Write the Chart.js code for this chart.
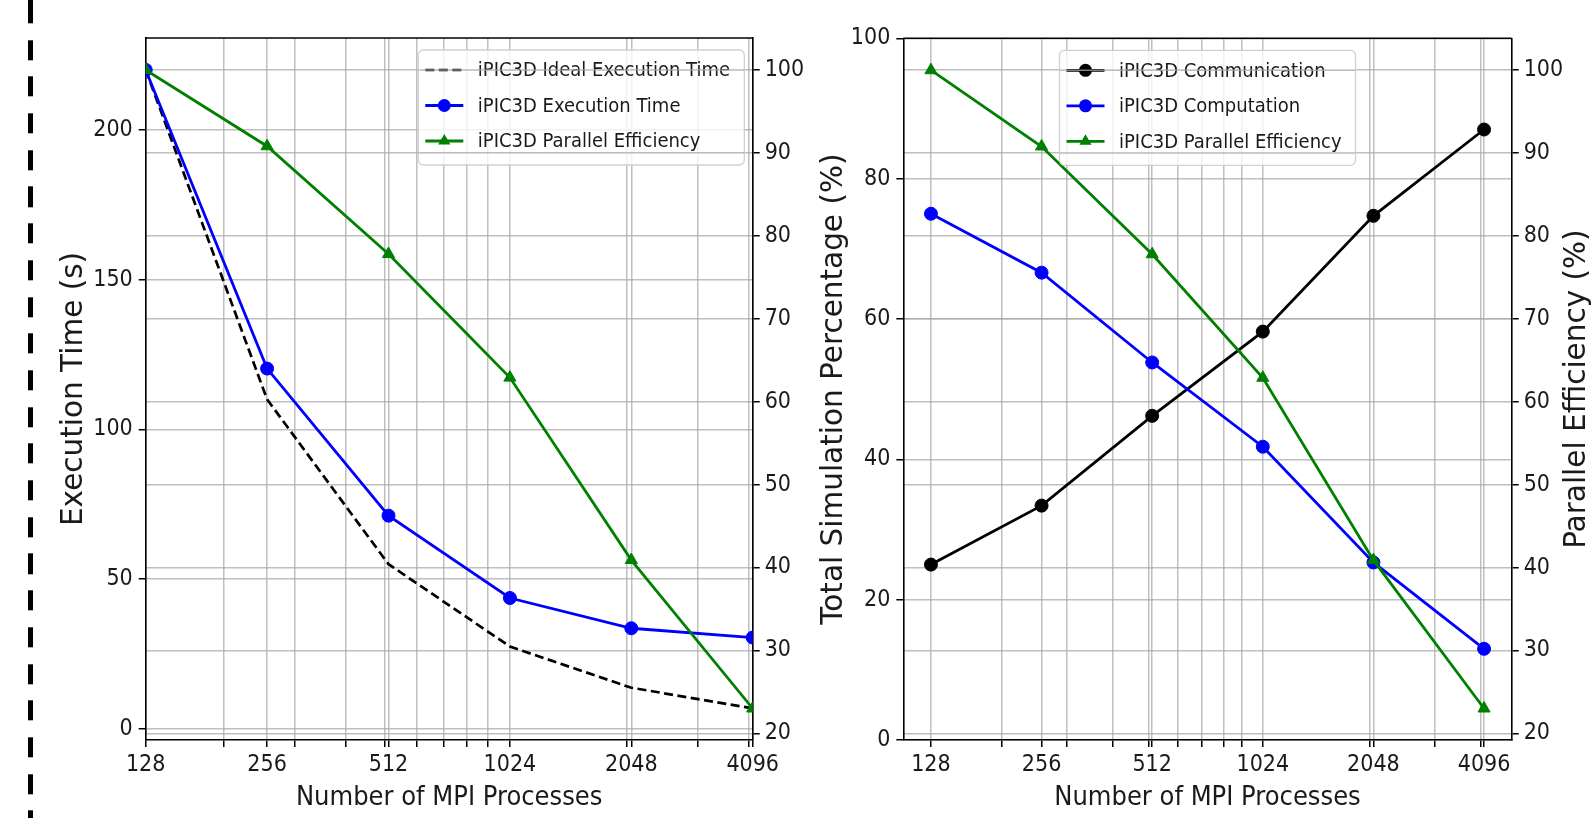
<!DOCTYPE html>
<html>
<head>
<meta charset="utf-8">
<script src="https://cdn.jsdelivr.net/npm/chart.js@4.4.1/dist/chart.umd.min.js"></script>
<style>
  html, body { margin: 0; padding: 0; background: #fff; overflow: hidden; }
  #wrap { position: relative; width: 1591px; height: 818px; }
  .panel { position: absolute; top: 0; }
  #left { left: 0; }
  #right { left: 800px; }
  /* thick dashed cut mark on the far left */
  #cut {
    position: absolute; left: 28px; top: 0; width: 5px; height: 818px;
    background: repeating-linear-gradient(to bottom, #000 0 20px, transparent 20px 36.7px);
    background-position: 0 3.3px;
  }
</style>
</head>
<body>
<div id="wrap">
  <div id="cut"></div>
  <div class="panel" id="left"><canvas id="c1" width="830" height="818"></canvas></div>
  <div class="panel" id="right"><canvas id="c2" width="791" height="818"></canvas></div>
</div>
<script>
// data
const procs = [128, 256, 512, 1024, 2048, 4096];
const idealTime = [220, 110, 55, 27.5, 13.75, 6.875];
const execTime = [220, 120.3, 71.2, 43.7, 33.6, 30.5];
const efficiency = [100, 90.8, 77.8, 62.9, 40.9, 23.0];
const commPct = [25.0, 33.4, 46.2, 58.2, 74.7, 87.0];
const compPct = [75.0, 66.6, 53.8, 41.8, 25.3, 13.0];

// tick positions
const minorTicks = [200, 300, 400, 500, 600, 700, 800, 900, 2000, 3000, 4000];
const timeTicks = [0, 50, 100, 150, 200];
const pctTicks = [0, 20, 40, 60, 80, 100];
const effTicks = [20, 30, 40, 50, 60, 70, 80, 90, 100];

const FONT = '"DejaVu Sans Condensed", "DejaVu Sans", sans-serif';
const VFONT = '"DejaVu Sans", sans-serif';   // the upright axis titles are not squeezed
const TXT = '#1a1a1a';
const GRID = 'rgba(170,170,170,0.75)';

Chart.defaults.font.family = FONT;
Chart.defaults.color = TXT;

function pairs(ys) {
  return procs.map((p, i) => ({ x: p, y: ys[i] }));
}

function xAxis(min, max) {
  return {
    type: 'logarithmic', min: min, max: max,
    afterBuildTicks: s => {
      s.ticks = procs.concat(minorTicks).sort((a, b) => a - b).map(v => ({ value: v }));
    },
    afterFit: s => { s.height = 78; },
    ticks: {
      autoSkip: false, maxRotation: 0, minRotation: 0, padding: 4,
      font: { size: 23 },
      callback: v => procs.includes(v) ? String(v) : ''
    },
    grid: { color: GRID, lineWidth: 1.5, tickColor: '#000', tickWidth: 1.5, tickLength: 7 },
    border: { color: '#000', width: 1.6 },
    title: {
      display: true, text: 'Number of MPI Processes',
      font: { size: 27, lineHeight: 1.2 }, padding: { top: 0, bottom: 4 }
    }
  };
}

function yAxis(pos, min, max, list, width, title) {
  return {
    position: pos, min: min, max: max,
    afterBuildTicks: s => { s.ticks = list.map(v => ({ value: v })); },
    afterFit: s => { s.width = width; },
    ticks: { font: { size: 23 }, padding: pos === 'left' ? 6 : 5 },
    grid: { color: GRID, lineWidth: 1.5, tickColor: '#000', tickWidth: 1.5, tickLength: 7 },
    border: { color: '#000', width: 1.6 },
    title: title
      ? { display: true, text: title, font: { family: VFONT, size: 29.5, lineHeight: 1.1 }, padding: 0 }
      : { display: false }
  };
}

function line(label, ys, color, axis, extra) {
  return Object.assign({
    label: label, data: pairs(ys), yAxisID: axis,
    borderColor: color, backgroundColor: color, borderWidth: 2.8,
    pointStyle: 'circle', pointRadius: 6.5, pointHoverRadius: 6.5, pointBorderWidth: 1,
    tension: 0, clip: 0
  }, extra);
}

function marker(ctx, style, x, y, r, color) {
  ctx.fillStyle = color;
  ctx.beginPath();
  if (style === 'triangle') {
    for (let k = 0; k < 3; k++) {
      const a = k * 2 * Math.PI / 3;
      const px = x + Math.sin(a) * r, py = y - Math.cos(a) * r;
      k ? ctx.lineTo(px, py) : ctx.moveTo(px, py);
    }
    ctx.closePath();
  } else {
    ctx.arc(x, y, r, 0, Math.PI * 2);
  }
  ctx.fill();
}

// legend box drawn inside the plot, like matplotlib's
const boxLegend = {
  id: 'boxLegend',
  afterDatasetsDraw(chart, args, o) {
    const { ctx, chartArea: a } = chart;
    const h = 115;
    const left = o.center ? (a.left + a.right - o.w) / 2 : a.right - 8.4 - o.w;
    const top = a.top + 12;
    ctx.save();
    ctx.beginPath();
    ctx.roundRect(left, top, o.w, h, 5);
    ctx.fillStyle = 'rgba(255,255,255,0.8)';
    ctx.fill();
    ctx.strokeStyle = 'rgba(204,204,204,0.9)';
    ctx.lineWidth = 1.3;
    ctx.stroke();
    chart.data.datasets.forEach((ds, i) => {
      const cy = top + 20 + i * 35.5;
      const x0 = left + 7, x1 = x0 + 38;
      ctx.setLineDash(ds.borderDash || []);
      ctx.strokeStyle = ds.borderColor;
      ctx.lineWidth = ds.borderWidth;
      ctx.beginPath(); ctx.moveTo(x0, cy); ctx.lineTo(x1, cy); ctx.stroke();
      ctx.setLineDash([]);
      if (ds.pointRadius > 0) marker(ctx, ds.pointStyle, (x0 + x1) / 2, cy, ds.pointRadius, ds.backgroundColor);
      ctx.fillStyle = TXT;
      ctx.font = '20px ' + FONT;
      ctx.textBaseline = 'middle';
      ctx.textAlign = 'left';
      ctx.fillText(ds.label, x1 + 14.5, cy + 1);
    });
    // twin axis grid is drawn over the legend in the original
    const y1 = chart.scales.y1;
    ctx.beginPath(); ctx.rect(left, top, o.w, h); ctx.clip();
    ctx.strokeStyle = GRID; ctx.lineWidth = 1.5;
    y1.ticks.forEach(t => {
      const py = y1.getPixelForValue(t.value);
      ctx.beginPath(); ctx.moveTo(left, py); ctx.lineTo(left + o.w, py); ctx.stroke();
    });
    ctx.restore();
  }
};

const frame = {
  id: 'frame',
  afterDraw(chart, args, o) {
    const { ctx, chartArea: a } = chart;
    ctx.save();
    ctx.strokeStyle = '#000';
    ctx.lineWidth = 1.6;
    ctx.beginPath(); ctx.moveTo(a.left, a.top); ctx.lineTo(a.right, a.top); ctx.stroke();
    if (o.rightTitle) {
      ctx.translate(o.titleX, (a.top + a.bottom) / 2);
      ctx.rotate(-Math.PI / 2);
      ctx.fillStyle = TXT;
      ctx.font = '29.5px ' + VFONT;
      ctx.textAlign = 'center';
      ctx.textBaseline = 'middle';
      ctx.fillText(o.rightTitle, 0, 0);
    }
    ctx.restore();
  }
};

// left panel: execution time + efficiency
new Chart(document.getElementById('c1'), {
  type: 'line',
  data: {
    datasets: [
      line('iPIC3D Ideal Execution Time', idealTime, '#000000', 'y',
        { borderDash: [9, 4.5], borderWidth: 2.7, pointRadius: 0, order: 3 }),
      line('iPIC3D Execution Time', execTime, '#0000ff', 'y', { order: 2 }),
      line('iPIC3D Parallel Efficiency', efficiency, '#008000', 'y1',
        { pointStyle: 'triangle', pointRadius: 7, order: 1 })
    ]
  },
  options: {
    responsive: false, animation: false,
    layout: { padding: { left: 57.8, top: 38, right: 0, bottom: 0 } },
    scales: {
      x: xAxis(128, 4096),
      y: yAxis('left', -3.7, 230.65, timeTicks, 87.9, 'Execution Time (s)'),
      y1: yAxis('right', 19.2, 103.85, effTicks, 77.3, null)
    },
    plugins: {
      legend: { display: false }, tooltip: { enabled: false },
      boxLegend: { w: 326, center: false },
      frame: {}
    }
  },
  plugins: [boxLegend, frame]
});

// right panel: communication / computation share + efficiency
new Chart(document.getElementById('c2'), {
  type: 'line',
  data: {
    datasets: [
      line('iPIC3D Communication', commPct, '#000000', 'y', { order: 3 }),
      line('iPIC3D Computation', compPct, '#0000ff', 'y', { order: 2 }),
      line('iPIC3D Parallel Efficiency', efficiency, '#008000', 'y1',
        { pointStyle: 'triangle', pointRadius: 7, order: 1 })
    ]
  },
  options: {
    responsive: false, animation: false,
    layout: { padding: { left: 17.8, top: 38.3, right: 0, bottom: 0 } },
    scales: {
      x: xAxis(128 / Math.pow(2, 0.25), 4096 * Math.pow(2, 0.25)),
      y: yAxis('left', 0, 100, pctTicks, 85.5, 'Total Simulation Percentage (%)'),
      y1: yAxis('right', 19.2, 103.85, effTicks, 79.3, null)
    },
    plugins: {
      legend: { display: false }, tooltip: { enabled: false },
      boxLegend: { w: 296, center: true },
      frame: { rightTitle: 'Parallel Efficiency (%)', titleX: 777.5 }
    }
  },
  plugins: [boxLegend, frame]
});
</script>
</body>
</html>
